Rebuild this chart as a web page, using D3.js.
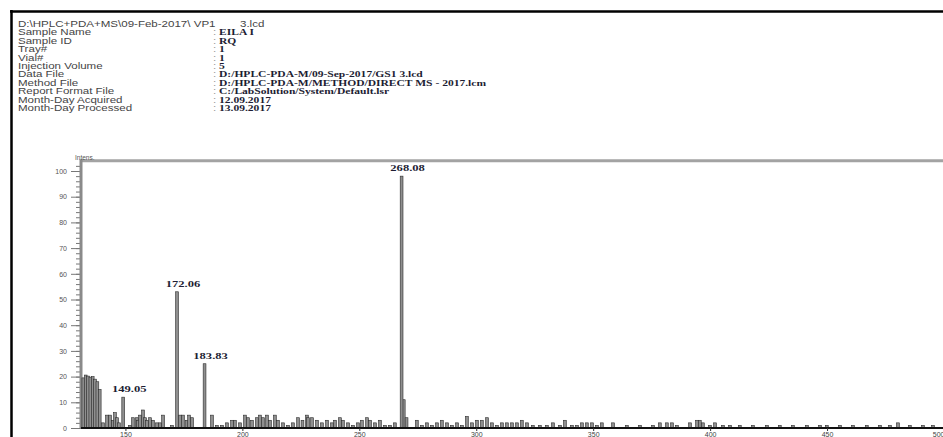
<!DOCTYPE html>
<html>
<head>
<meta charset="utf-8">
<script src="https://cdn.jsdelivr.net/npm/d3@7"></script>
<style>
  html, body { margin: 0; padding: 0; background: #fff; }
  svg { display: block; }
</style>
</head>
<body>
<svg id="chart" width="943" height="437"></svg>
<script>
// ---- Report header ----
const headerPath = "D:\\HPLC+PDA+MS\\09-Feb-2017\\ VP1";
const headerFile = "3.lcd";
const headerLabels = ["Sample Name", "Sample ID", "Tray#", "Vial#", "Injection Volume",
  "Data File", "Method File", "Report Format File", "Month-Day Acquired", "Month-Day Processed"];
const headerValues = ["EILA I", "RQ", "1", "1", "5",
  "D:/HPLC-PDA-M/09-Sep-2017/GS1  3.lcd", "D:/HPLC-PDA-M/METHOD/DIRECT MS - 2017.lcm",
  "C:/LabSolution/System/Default.lsr", "12.09.2017", "13.09.2017"];

// ---- Labelled peaks (m/z, relative intensity %) ----
const peakMz = [149.05, 172.06, 183.83, 268.08];
const peakInt = [12, 53, 25, 98];
const peakLabels = ["149.05", "172.06", "183.83", "268.08"];

// ---- Unlabelled fragment / background sticks ----
const noiseMz = [132, 133, 134, 135, 136, 137, 138, 139,
  140.4, 142.1, 143.4, 144.7, 145.5, 146.4, 147.2,
  151.9, 153.2, 154.9, 155.4, 156.2, 157.5, 158.4, 159.2, 160.5, 161.8, 163.5, 164.8, 166.1,
  169.9, 173.3, 174.6, 176.3, 177.2, 178.5,
  187.0, 189.1, 191.3, 193.4, 195.6, 196.8, 199.0, 201.1, 202.4, 204.1, 206.2, 207.5, 208.8,
  210.5, 211.8, 213.9, 215.2, 217.4, 219.5, 221.6, 223.8, 225.7, 227.6, 228.1, 229.8,
  231.9, 234.0, 236.2, 238.3, 239.6, 241.7, 243.0, 245.2, 247.3, 249.4, 251.1, 253.3,
  254.6, 256.7, 258.8, 261.0, 263.1, 265.2,
  269.0, 270.2, 274.6, 276.8, 278.9, 281.1, 283.2, 285.3, 287.5, 289.6, 291.8, 293.9,
  296.0, 298.2, 300.3, 302.4, 304.6, 306.7, 308.9, 311.0, 313.1, 315.3, 317.4, 319.5,
  321.7, 324.2, 327.2, 330.2, 332.8, 335.8, 337.9, 340.9, 343.1, 345.2, 347.3, 349.5,
  351.6, 353.7, 358.5, 364.4, 370.0, 375.6, 378.5, 381.5, 383.7, 385.8, 391.4, 394.4,
  395.6, 396.9, 399.9, 402.1, 405.5, 408.5, 412.7, 418.3, 424.3, 429.8, 435.4, 441.4,
  447.0, 449.9, 455.5, 461.1, 467.0, 472.6, 476.9, 480.3, 485.4, 491.0, 495.3];
const noiseInt = [19.5, 20.6, 20.2, 19.8, 20, 19, 18, 15,
  2, 5, 5, 3, 6, 4, 2,
  1, 4, 4, 3, 5, 7, 4, 3, 4, 3, 2, 2, 5,
  1, 5, 5, 3, 5, 4,
  5, 1, 1, 2, 3, 3, 2, 5, 4, 3, 4, 5, 4,
  5, 3, 5, 3, 2, 1, 2, 4, 3, 5, 4, 4,
  3, 2, 3, 2, 3, 4, 3, 2, 1, 2, 3, 4,
  3, 2, 3, 1, 1, 2,
  11, 4, 3, 1, 2, 1, 2, 3, 2, 1, 2, 1,
  4.5, 2, 3, 3, 4, 2, 1, 2, 2, 2, 2, 3,
  2, 1, 1, 1, 2, 1, 3, 1, 1, 2, 2, 2,
  1, 2, 2, 1, 1, 1, 2, 2, 2, 1, 2, 3,
  3, 2, 1, 2, 1, 1, 1, 1, 1, 1, 1, 1,
  1, 1, 1, 1, 1, 1, 1, 2, 1, 1, 1];

// ---- Axis ticks ----
const yMajorTicks = [0, 10, 20, 30, 40, 50, 60, 70, 80, 90, 100];
const xTicks = [150, 200, 250, 300, 350, 400, 450, 500];

const svg = d3.select("#chart");

// Outer report frame (top and left rules)
svg.append("path")
  .attr("d", "M10,11.5H943M11.5,10V437")
  .attr("fill", "none").attr("stroke", "#000").attr("stroke-width", 2.5);

// Header block
const sx = 1.36;
const head = svg.append("g");
const lineY = i => 27 + i * 8.4;
function hText(x, yb, txt, opts) {
  head.append("text")
    .attr("transform", `translate(${x},${yb}) scale(${sx},1)`)
    .attr("font-family", opts.serif ? "'Liberation Serif', 'Times New Roman', serif" : "'Liberation Sans', Arial, sans-serif")
    .attr("font-weight", opts.serif ? "bold" : "normal")
    .attr("font-size", 8.5)
    .attr("fill", opts.fill)
    .text(txt);
}
hText(18, lineY(0), headerPath, { fill: "#444" });
hText(240, lineY(0), headerFile, { fill: "#444" });
headerLabels.forEach((lab, i) => {
  hText(18, lineY(i + 1), lab, { fill: "#444" });
  hText(213, lineY(i + 1), ":", { fill: "#999" });
  hText(219, lineY(i + 1), headerValues[i], { fill: "#1d1d33", serif: true });
});

// Scales
const x = d3.scaleLinear().domain([131, 500]).range([81, 944]);
const y = d3.scaleLinear().domain([0, 100]).range([428, 171]);
const yTop = y(104);

// Plot frame: gray top rule and left intensity axis
svg.append("line")
  .attr("x1", x(131)).attr("x2", 943).attr("y1", yTop).attr("y2", yTop)
  .attr("stroke", "#a3a3a3").attr("stroke-width", 3);

// Minor and major intensity ticks
const yMinor = d3.axisLeft(y).tickValues(d3.range(0, 104, 2)).tickSize(5).tickFormat("");
svg.append("g").attr("transform", `translate(${x(131)},0)`).call(yMinor)
  .call(g => g.select(".domain").remove())
  .call(g => g.selectAll("line").attr("stroke", "#777").attr("stroke-width", 1));
const yMajor = d3.axisLeft(y).tickValues(yMajorTicks).tickSize(10).tickPadding(4);
svg.append("g").attr("transform", `translate(${x(131)},0)`).call(yMajor)
  .call(g => g.select(".domain").remove())
  .call(g => g.selectAll("line").attr("stroke", "#777").attr("stroke-width", 1))
  .call(g => g.selectAll("text").attr("font-family", "'Liberation Sans', Arial, sans-serif")
    .attr("font-size", 7).attr("fill", "#555"));

svg.append("line")
  .attr("x1", x(131)).attr("x2", x(131)).attr("y1", yTop - 1.5).attr("y2", y(0))
  .attr("stroke", "#8a8a8a").attr("stroke-width", 3);

svg.append("text")
  .attr("x", 75).attr("y", 160)
  .attr("font-family", "'Liberation Sans', Arial, sans-serif")
  .attr("font-size", 6.5).attr("fill", "#555")
  .text("Intens.");

// Spectrum sticks
const sticks = noiseMz.map((m, i) => ({ mz: m, v: noiseInt[i] }))
  .concat(peakMz.map((m, i) => ({ mz: m, v: peakInt[i] })));
svg.append("g").selectAll("rect").data(sticks).join("rect")
  .attr("x", d => x(d.mz) - 1.4)
  .attr("width", 2.8)
  .attr("y", d => y(d.v))
  .attr("height", d => y(0) - y(d.v))
  .attr("fill", "#8f8f8f")
  .attr("stroke", "#2a2a2a")
  .attr("stroke-width", 0.6);

// m/z axis
const xAxis = d3.axisBottom(x).tickValues(xTicks).tickSize(3).tickPadding(1);
svg.append("g").attr("transform", `translate(0,${y(0)})`).call(xAxis)
  .call(g => g.select(".domain").attr("d", `M${x(131)},0H943`).attr("stroke", "#111").attr("stroke-width", 2))
  .call(g => g.selectAll("line").attr("stroke", "#333"))
  .call(g => g.selectAll("text").attr("font-family", "'Liberation Sans', Arial, sans-serif")
    .attr("font-size", 7).attr("fill", "#444")
    .attr("text-anchor", d => d === 500 ? "end" : "middle"));

// Peak annotations
svg.append("g").selectAll("text").data(peakMz).join("text")
  .attr("transform", (d, i) => `translate(${x(d) + 6},${y(peakInt[i]) - 5}) scale(1.4,1)`)
  .attr("text-anchor", "middle")
  .attr("font-family", "'Liberation Serif', 'Times New Roman', serif")
  .attr("font-weight", "bold")
  .attr("font-size", 9)
  .attr("fill", "#1d1d33")
  .text((d, i) => peakLabels[i]);
</script>
</body>
</html>
